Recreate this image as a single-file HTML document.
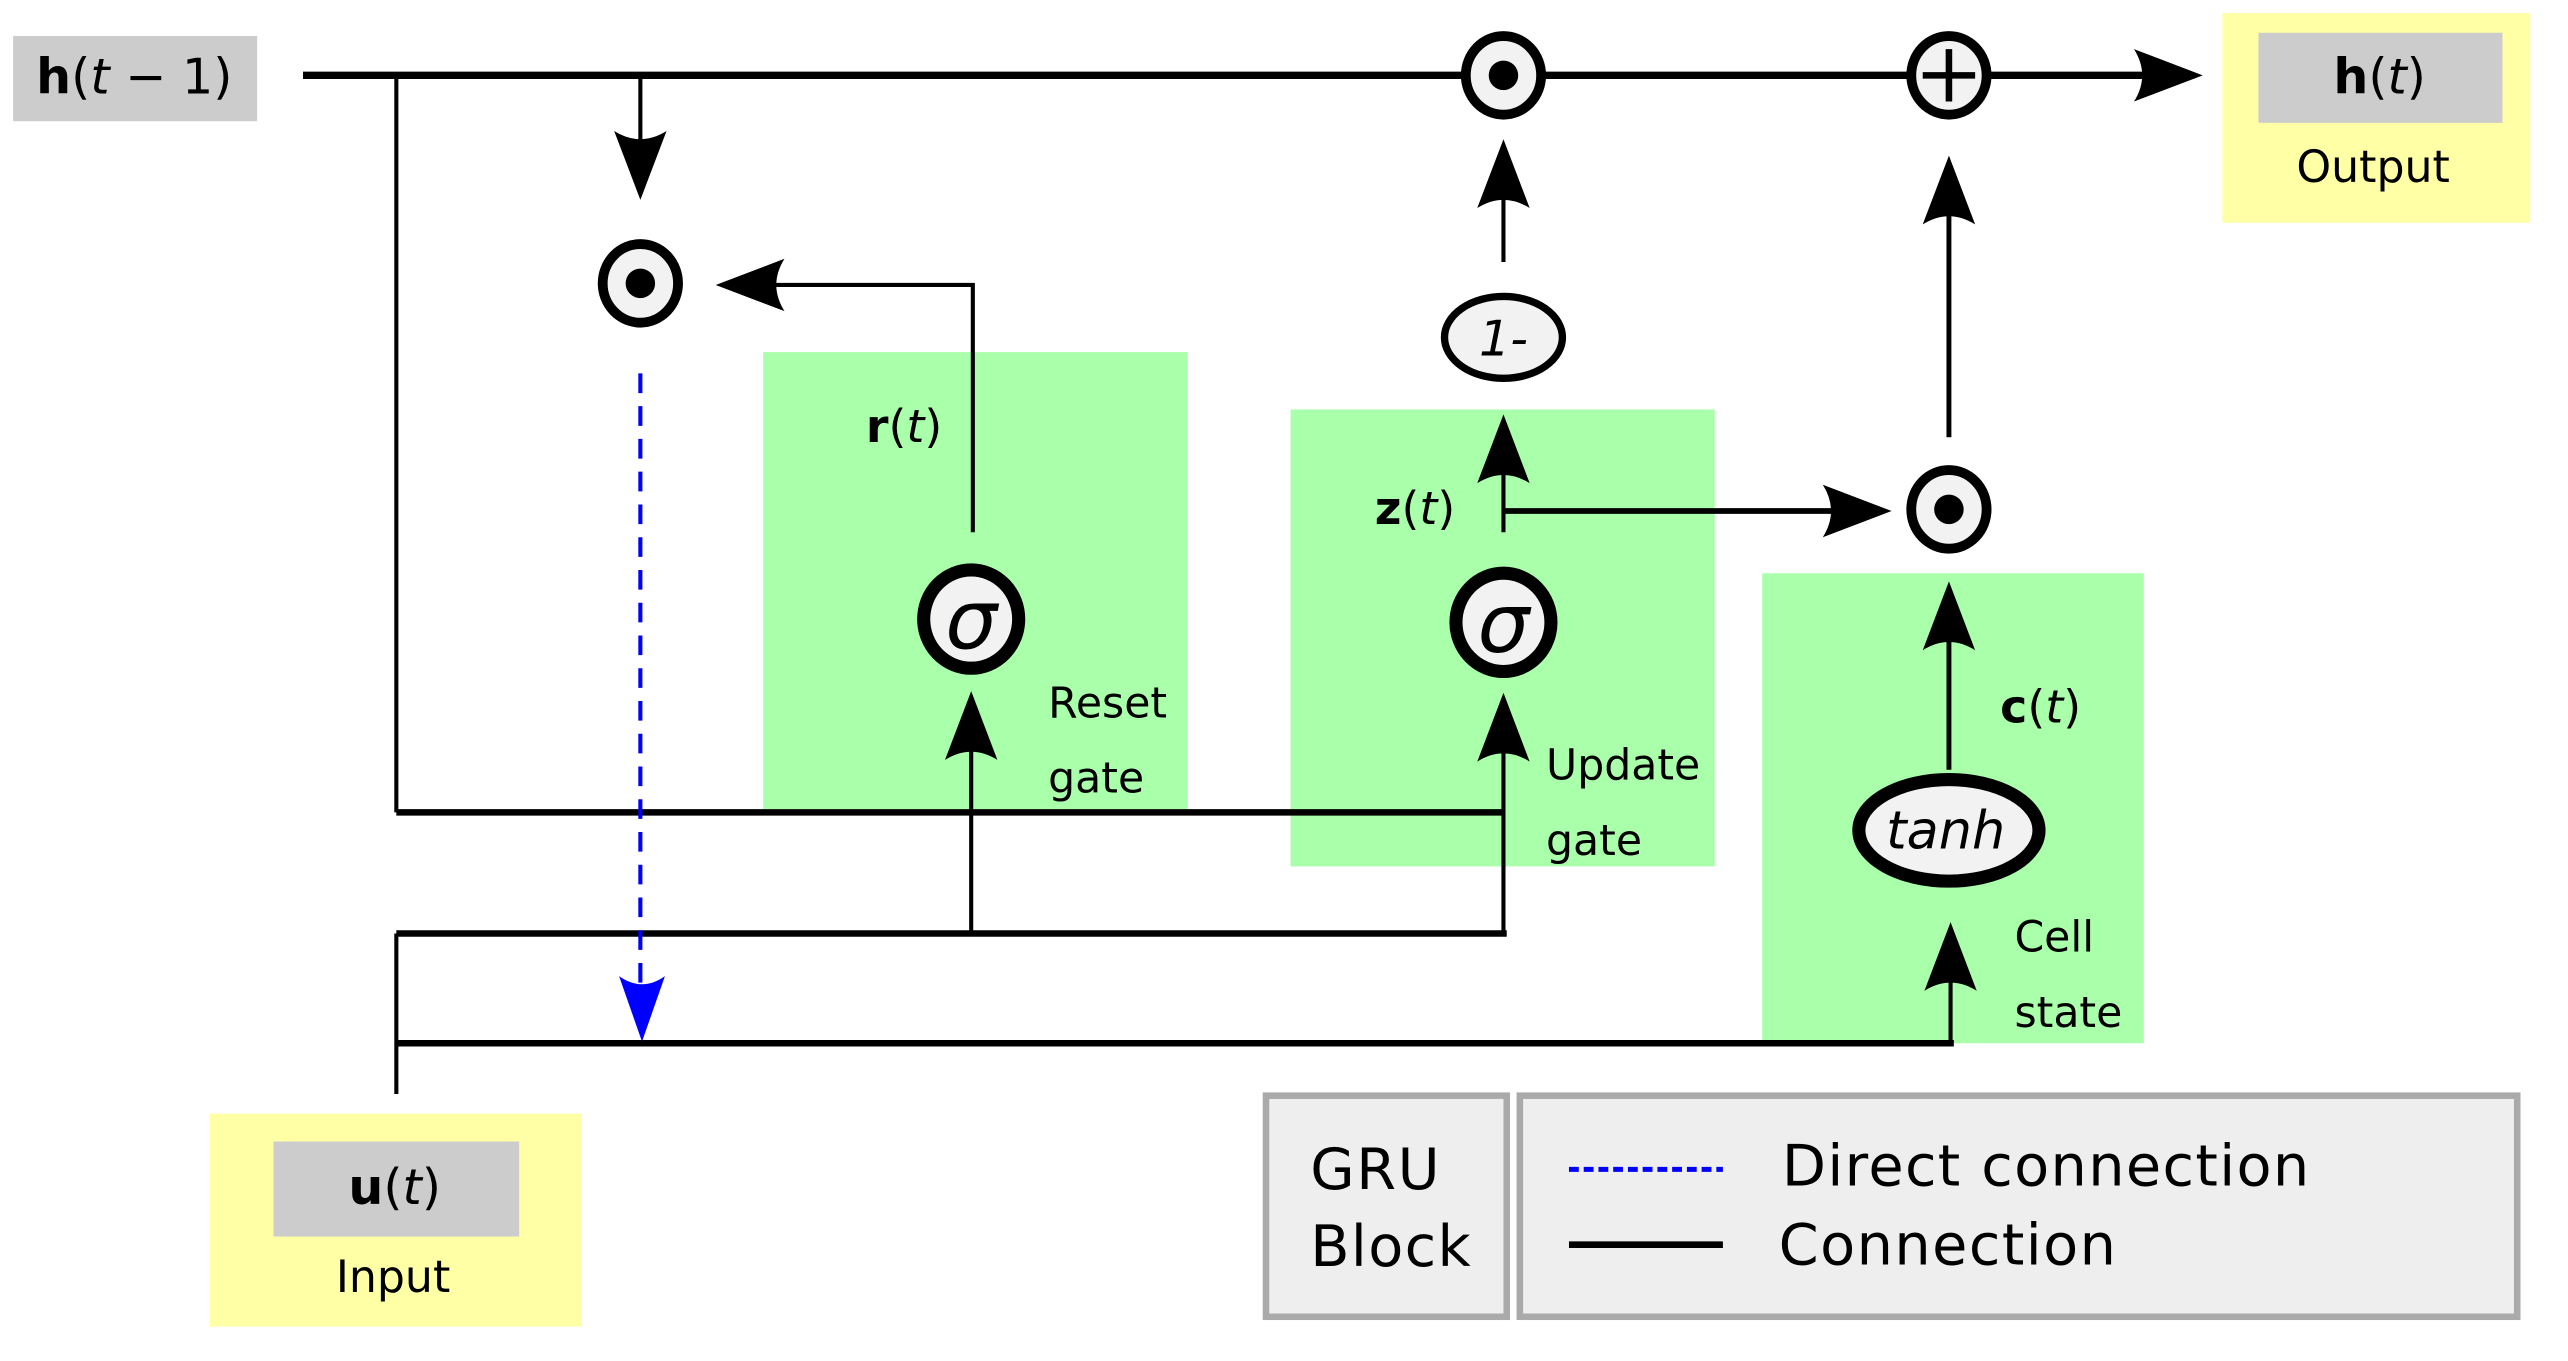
<!DOCTYPE html>
<html><head><meta charset="utf-8"><style>
html,body{margin:0;padding:0;background:#fff;}
svg{display:block;}
text{font-family:"DejaVu Sans","Liberation Sans",sans-serif;fill:#000;}
</style></head><body>
<svg width="2568" height="1361" viewBox="0 0 1568 831" xmlns="http://www.w3.org/2000/svg">
<defs>
<path id="ah" d="M0 0 L-42 -16 Q-32 0 -42 16 Z" fill="#000"/>
<path id="ahb" d="M0 0 L-40 -14 Q-30 0 -40 14 Z" fill="#0000ff"/>
</defs>
<rect x="8" y="22" width="149" height="52" fill="#cccccc"/>
<text x="82" y="57" font-size="30" text-anchor="middle"><tspan font-weight="bold">h</tspan>(<tspan font-style="italic">t</tspan> − 1)</text>
<rect x="1357" y="8" width="188" height="128" fill="#ffffa6"/>
<rect x="1379" y="20" width="149" height="55" fill="#cccccc"/>
<text x="1453" y="57" font-size="30" text-anchor="middle"><tspan font-weight="bold">h</tspan>(<tspan font-style="italic">t</tspan>)</text>
<text x="1449" y="111" font-size="27" text-anchor="middle">Output</text>
<rect x="128" y="680" width="227" height="130" fill="#ffffa6"/>
<rect x="167" y="697" width="150" height="58" fill="#cccccc"/>
<text x="241" y="735" font-size="30" text-anchor="middle"><tspan font-weight="bold">u</tspan>(<tspan font-style="italic">t</tspan>)</text>
<text x="240" y="789" font-size="27" text-anchor="middle">Input</text>
<rect x="466" y="215" width="259" height="279" fill="#aaffaa"/>
<rect x="788" y="250" width="259" height="279" fill="#aaffaa"/>
<rect x="1076" y="350" width="233" height="287" fill="#aaffaa"/>
<g stroke="#000" fill="none">
<line x1="185" y1="46" x2="1310" y2="46" stroke-width="4.5"/>
<line x1="242" y1="46" x2="242" y2="496" stroke-width="2.5"/>
<line x1="391" y1="48" x2="391" y2="100" stroke-width="2.5"/>
<polyline points="594,325 594,174 470,174" stroke-width="2.5"/>
<line x1="918" y1="160" x2="918" y2="110" stroke-width="2.5"/>
<line x1="918" y1="325" x2="918" y2="280" stroke-width="2.5"/>
<line x1="918" y1="312" x2="1120" y2="312" stroke-width="3.5"/>
<line x1="1190" y1="267" x2="1190" y2="120" stroke-width="3"/>
<line x1="1190" y1="470" x2="1190" y2="380" stroke-width="3"/>
<line x1="242" y1="496" x2="918" y2="496" stroke-width="4"/>
<line x1="242" y1="570" x2="920" y2="570" stroke-width="4"/>
<line x1="242" y1="570" x2="242" y2="668" stroke-width="2.5"/>
<line x1="593" y1="570" x2="593" y2="450" stroke-width="2.5"/>
<line x1="918" y1="570" x2="918" y2="450" stroke-width="2.5"/>
<line x1="242" y1="637" x2="1193" y2="637" stroke-width="4"/>
<line x1="1191" y1="637" x2="1191" y2="590" stroke-width="2.5"/>
<line x1="391" y1="228" x2="391" y2="610" stroke="#0000ff" stroke-width="2.5" stroke-dasharray="12,8"/>
</g>
<use href="#ah" transform="translate(391,122) rotate(90)"/>
<use href="#ah" transform="translate(437,174) rotate(180)"/>
<use href="#ah" transform="translate(1345,46)"/>
<use href="#ah" transform="translate(918,85) rotate(-90)"/>
<use href="#ah" transform="translate(918,253) rotate(-90)"/>
<use href="#ah" transform="translate(1155,312)"/>
<use href="#ah" transform="translate(1190,95) rotate(-90)"/>
<use href="#ah" transform="translate(1190,355) rotate(-90)"/>
<use href="#ah" transform="translate(593,422) rotate(-90)"/>
<use href="#ah" transform="translate(918,423) rotate(-90)"/>
<use href="#ah" transform="translate(1191,563) rotate(-90)"/>
<use href="#ahb" transform="translate(392,636) rotate(90)"/>
<g stroke="#000" fill="#f2f2f2">
<ellipse cx="391" cy="173" rx="23" ry="24" stroke-width="6"/>
<ellipse cx="918" cy="46" rx="23" ry="24" stroke-width="6"/>
<ellipse cx="1190" cy="311" rx="23" ry="24" stroke-width="6"/>
<ellipse cx="1190" cy="46" rx="23" ry="24" stroke-width="6"/>
<ellipse cx="593" cy="378" rx="29" ry="30" stroke-width="8"/>
<ellipse cx="918" cy="380" rx="29" ry="30" stroke-width="8"/>
<ellipse cx="918" cy="206" rx="36" ry="25" stroke-width="4.5"/>
<ellipse cx="1190" cy="507" rx="55" ry="31" stroke-width="8"/>
</g>
<g fill="#000">
<circle cx="391" cy="173" r="9"/>
<circle cx="918" cy="46" r="9"/>
<circle cx="1190" cy="311" r="9"/>
</g>
<line x1="1190" y1="30" x2="1190" y2="62" stroke="#000" stroke-width="4"/>
<line x1="1174" y1="46" x2="1206" y2="46" stroke="#000" stroke-width="4"/>
<text x="593" y="396" font-size="50" font-style="italic" text-anchor="middle">σ</text>
<text x="918" y="398" font-size="50" font-style="italic" text-anchor="middle">σ</text>
<text x="918" y="217" font-size="30" font-style="italic" text-anchor="middle">1-</text>
<text x="1188" y="518" font-size="32" font-style="italic" text-anchor="middle">tanh</text>
<text x="552" y="270" font-size="28" text-anchor="middle"><tspan font-weight="bold">r</tspan>(<tspan font-style="italic">t</tspan>)</text>
<text x="864" y="320" font-size="28" text-anchor="middle"><tspan font-weight="bold">z</tspan>(<tspan font-style="italic">t</tspan>)</text>
<text x="1246" y="441" font-size="28" text-anchor="middle"><tspan font-weight="bold">c</tspan>(<tspan font-style="italic">t</tspan>)</text>
<text x="640" y="438" font-size="26">Reset</text>
<text x="640" y="484" font-size="26">gate</text>
<text x="944" y="476" font-size="26">Update</text>
<text x="944" y="522" font-size="26">gate</text>
<text x="1230" y="581" font-size="26">Cell</text>
<text x="1230" y="627" font-size="26">state</text>
<rect x="773" y="669" width="147" height="135" fill="#eeeeee" stroke="#aaaaaa" stroke-width="4"/>
<rect x="928" y="669" width="609" height="135" fill="#eeeeee" stroke="#aaaaaa" stroke-width="4"/>
<text x="800" y="726" font-size="35" textLength="79">GRU</text>
<text x="800" y="773" font-size="35" textLength="98">Block</text>
<line x1="958" y1="714" x2="1052" y2="714" stroke="#0000ff" stroke-width="3" stroke-dasharray="6,3"/>
<line x1="958" y1="760" x2="1052" y2="760" stroke="#000" stroke-width="4"/>
<text x="1088" y="724" font-size="35" textLength="322">Direct connection</text>
<text x="1086" y="772" font-size="35" textLength="206">Connection</text>
</svg>
</body></html>
